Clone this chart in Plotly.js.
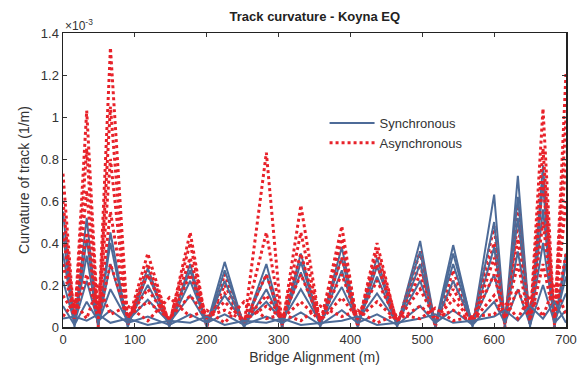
<!DOCTYPE html>
<html>
<head>
<meta charset="utf-8">
<script src="https://cdn.plot.ly/plotly-3.0.1.min.js"></script>
<style>html,body{margin:0;padding:0;background:#fff;}#chart{width:583px;height:374px;}</style>
</head>
<body>
<div id="chart"></div>
<script>
// Bridge alignment nodes (m)
const nodes = [0,16,33,49,66,90,118,148,177,200,225,252,283,305,331,358,388,410,437,465,497,518,543,570,600,615,633,650,668,684,700];

// Curvature values in units of 1e-3 (1/m)
const syncA = [0.55,0.01,0.52,0.00,0.45,0.01,0.28,0.00,0.30,0.01,0.31,0.00,0.30,0.01,0.35,0.00,0.38,0.01,0.33,0.00,0.41,0.01,0.39,0.00,0.63,0.01,0.72,0.00,0.77,0.01,0.35];
const syncB = [0.45,0.00,0.42,0.02,0.40,0.00,0.25,0.01,0.27,0.00,0.27,0.01,0.25,0.00,0.31,0.01,0.33,0.00,0.29,0.01,0.36,0.00,0.35,0.01,0.50,0.00,0.62,0.01,0.68,0.00,0.30];
const syncC = [0.35,0.02,0.34,0.01,0.30,0.02,0.20,0.01,0.22,0.02,0.22,0.00,0.18,0.02,0.26,0.01,0.27,0.02,0.24,0.01,0.30,0.02,0.30,0.01,0.38,0.02,0.52,0.01,0.56,0.02,0.24];
const syncD = [0.22,0.02,0.22,0.02,0.18,0.03,0.13,0.02,0.15,0.02,0.15,0.02,0.12,0.03,0.18,0.02,0.19,0.03,0.16,0.02,0.22,0.02,0.22,0.02,0.25,0.03,0.36,0.02,0.40,0.03,0.16];
const syncE = [0.10,0.01,0.12,0.03,0.08,0.02,0.05,0.01,0.06,0.02,0.06,0.01,0.05,0.02,0.07,0.01,0.08,0.02,0.06,0.01,0.10,0.02,0.08,0.01,0.12,0.02,0.18,0.01,0.20,0.02,0.08];
const syncF = [0.04,0.05,0.03,0.06,0.02,0.04,0.01,0.03,0.02,0.05,0.01,0.03,0.02,0.04,0.01,0.02,0.03,0.05,0.01,0.02,0.04,0.06,0.02,0.03,0.05,0.08,0.03,0.10,0.04,0.12,0.02];

const asyncA = [0.73,0.01,1.03,0.00,1.33,0.02,0.35,0.01,0.45,0.00,0.25,0.01,0.83,0.00,0.58,0.01,0.48,0.00,0.40,0.01,0.36,0.00,0.27,0.01,0.48,0.00,0.58,0.01,1.04,0.00,1.21];
const asyncB = [0.60,0.02,0.85,0.01,1.05,0.01,0.30,0.02,0.40,0.01,0.20,0.02,0.45,0.01,0.45,0.02,0.42,0.01,0.36,0.02,0.30,0.01,0.22,0.02,0.40,0.01,0.50,0.02,0.85,0.01,1.00];
const asyncC = [0.45,0.03,0.65,0.02,0.80,0.03,0.25,0.02,0.33,0.03,0.16,0.02,0.25,0.03,0.35,0.02,0.33,0.03,0.30,0.02,0.25,0.03,0.18,0.02,0.33,0.03,0.42,0.02,0.70,0.03,0.80];
const asyncD = [0.30,0.04,0.45,0.03,0.55,0.04,0.18,0.03,0.25,0.04,0.12,0.03,0.15,0.04,0.25,0.03,0.25,0.04,0.22,0.03,0.18,0.04,0.13,0.03,0.25,0.04,0.30,0.03,0.50,0.04,0.60];
const asyncE = [0.15,0.06,0.25,0.04,0.30,0.05,0.12,0.04,0.15,0.05,0.08,0.03,0.10,0.04,0.12,0.03,0.14,0.04,0.12,0.03,0.10,0.04,0.08,0.03,0.15,0.04,0.18,0.03,0.30,0.04,0.35];
const asyncF = [0.05,0.12,0.04,0.20,0.06,0.10,0.03,0.14,0.05,0.08,0.02,0.12,0.04,0.06,0.03,0.10,0.05,0.08,0.02,0.06,0.04,0.09,0.03,0.05,0.06,0.12,0.04,0.15,0.05,0.20,0.06];

const xTicks = [0,100,200,300,400,500,600,700];
const yTicks = [0,0.2,0.4,0.6,0.8,1,1.2,1.4];

const syncSeries = [syncA, syncB, syncC, syncD, syncE, syncF];
const asyncSeries = [asyncA, asyncB, asyncC, asyncD, asyncE, asyncF];
const blue = '#4d6b98';
const red = '#e8222a';

const traces = [];
for (let i = 0; i < syncSeries.length; i++) {
  traces.push({x: nodes, y: syncSeries[i], type: 'scatter', mode: 'lines',
    name: 'Synchronous', legendgroup: 's', showlegend: i === 0,
    line: {color: blue, width: 2}});
  traces.push({x: nodes, y: asyncSeries[i], type: 'scatter', mode: 'lines',
    name: 'Asynchronous', legendgroup: 'a', showlegend: i === 0,
    line: {color: red, width: 3, dash: 'dot'}});
}

const font = 'Liberation Sans, Arial, sans-serif';
const layout = {
  width: 583, height: 374,
  margin: {l: 63, r: 17, t: 33, b: 47},
  paper_bgcolor: '#fff', plot_bgcolor: '#fff',
  font: {family: font, size: 13, color: '#333'},
  title: {text: '<b>Track curvature - Koyna EQ</b>', font: {family: font, size: 13, color: '#222'},
    x: 0.54, xanchor: 'center', y: 0.955, yanchor: 'middle'},
  xaxis: {range: [0, 700], tickvals: xTicks, ticks: 'inside', ticklen: 4, tickcolor: '#333',
    showline: true, linecolor: '#222', linewidth: 1.5, mirror: 'ticks', showgrid: false, zeroline: false,
    title: {text: 'Bridge Alignment (m)', font: {family: font, size: 14, color: '#333'}, standoff: 6},
    tickfont: {size: 13, color: '#333'}},
  yaxis: {range: [0, 1.4], tickvals: yTicks, ticks: 'inside', ticklen: 4, tickcolor: '#333',
    showline: true, linecolor: '#222', linewidth: 1.5, mirror: 'ticks', showgrid: false, zeroline: false,
    title: {text: 'Curvature of track (1/m)', font: {family: font, size: 14, color: '#333'}, standoff: 8},
    tickfont: {size: 13, color: '#333'}},
  legend: {x: 0.52, y: 0.745, xanchor: 'left', yanchor: 'top', bgcolor: 'rgba(255,255,255,0.9)',
    font: {family: font, size: 13, color: '#333'}, itemwidth: 45, tracegroupgap: 0},
  annotations: [{xref: 'paper', yref: 'paper', x: 0, y: 1, xanchor: 'left', yanchor: 'bottom',
    text: '×10<sup>-3</sup>', showarrow: false, font: {family: font, size: 12, color: '#333'}, yshift: -2}],
  showlegend: true
};

Plotly.newPlot('chart', traces, layout, {displayModeBar: false, staticPlot: true});
</script>
</body>
</html>
